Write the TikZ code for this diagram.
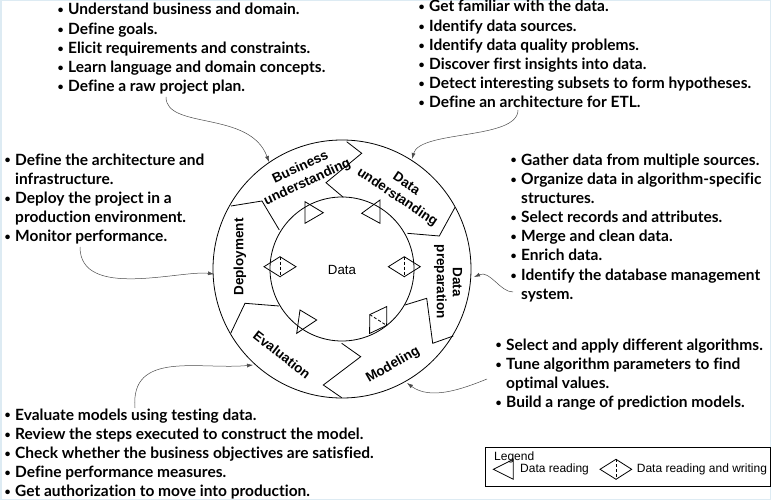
\documentclass[tikz,border=0pt]{standalone}
\usepackage{fontspec}
\setmainfont{Lato}[Ligatures=CommonOff]
\newfontfamily\arialfont{Liberation Sans}
\usetikzlibrary{arrows.meta}
\definecolor{inkgray}{HTML}{4A4A4A}
\definecolor{edgeblue}{HTML}{DDEBF3}
\newcommand{\bpt}{\makebox[11pt][l]{\hspace{0.5pt}\raisebox{0.15ex}{\fontsize{10.5}{10.5}\selectfont\textbullet}}}
\newcommand{\npt}{\makebox[11pt]{}}

\begin{document}
\begin{tikzpicture}[x=1pt, y=-1pt, >={Latex[length=6pt,width=4pt]},
  steptext/.style={anchor=base west, inner sep=0pt, font=\fontsize{15.5}{19.2}\selectfont\bfseries},
  phase/.style={font=\arialfont\bfseries\fontsize{13.5}{16}\selectfont, align=center, inner sep=0pt},
  legtext/.style={font=\arialfont\fontsize{12}{14}\selectfont, anchor=west, inner sep=0pt},
  pointer/.style={->, inkgray, line width=0.5pt},
  ring/.style={line width=0.8pt}]
  \useasboundingbox (0,0) rectangle (771,500);
  \draw[edgeblue, line width=3pt] (0,0) rectangle (771,500);

  % the cycle
  \draw[ring] (342,269) circle (129);
  \draw[ring] (342,269) circle (72);
  \draw[ring] (346.7,141.7) -- (361.7,153.3) -- (326,182.7) -- (343.3,197.3);
  \draw[ring] (455,207.3) -- (439.3,236) -- (407.3,233.3);
  \draw[ring] (405,305) -- (426.7,298.3) -- (432.7,343.3) -- (453.3,336);
  \draw[ring] (341.7,343.3) -- (360.7,356.7) -- (323.3,385) -- (341.7,397.7);
  \draw[ring] (279,306) -- (245,303.3) -- (230.7,333.3);
  \draw[ring] (231,206) -- (262,201) -- (279.3,230);

  \node[font=\arialfont\fontsize{13.3}{15}\selectfont] (data) at (342,270) {Data};
  \node[phase, rotate=25] (bus) at (304,175) {Business\\understanding};
  \node[phase, rotate=-34] (und) at (401.5,191) {Data\\understanding};
  \node[phase, rotate=-90] (prep) at (448,282) {Data\\preparation};
  \node[phase, rotate=30] (mod) at (393,365) {Modeling};
  \node[phase, rotate=-38] (eval) at (282,355) {Evaluation};
  \node[phase, rotate=90] (dep) at (240,257) {Deployment};

  % reading / writing marks
  \draw[ring] (305,201.7) -- (305,223.3) -- (323.3,212.7) -- cycle;
  \draw[ring] (380,200) -- (380,223.3) -- (361.7,213.3) -- cycle;
  \draw[ring] (300,310) -- (296.7,333.3) -- (316.7,320) -- cycle;
  \foreach \cx/\cy/\ang in {280/266.7/0, 404.3/266.7/0, 378.2/320/57.4}{
    \begin{scope}[shift={(\cx,\cy)}, rotate=\ang]
      \draw[ring] (-16,0) -- (0,-10) -- (16,0) -- (0,10) -- cycle;
      \draw[ring, dashed, dash pattern=on 3pt off 2pt] (0,-10) -- (0,10);
    \end{scope}
  }

  % task lists
  \node[steptext] (bu-list) at (57,15) {\begin{tabular}[t]{@{}l@{}}
    \bpt Understand business and domain.\\
    \bpt Define goals.\\
    \bpt Elicit requirements and constraints.\\
    \bpt Learn language and domain concepts.\\
    \bpt Define a raw project plan.
  \end{tabular}};
  \node[steptext] (du-list) at (418,12) {\begin{tabular}[t]{@{}l@{}}
    \bpt Get familiar with the data.\\
    \bpt Identify data sources.\\
    \bpt Identify data quality problems.\\
    \bpt Discover first insights into data.\\
    \bpt Detect interesting subsets to form hypotheses.\\
    \bpt Define an architecture for ETL.
  \end{tabular}};
  \node[steptext] (dep-list) at (4,165) {\begin{tabular}[t]{@{}l@{}}
    \bpt Define the architecture and\\
    \npt infrastructure.\\
    \bpt Deploy the project in a\\
    \npt production environment.\\
    \bpt Monitor performance.
  \end{tabular}};
  \node[steptext] (dp-list) at (510,165) {\begin{tabular}[t]{@{}l@{}}
    \bpt Gather data from multiple sources.\\
    \bpt Organize data in algorithm-specific\\
    \npt structures.\\
    \bpt Select records and attributes.\\
    \bpt Merge and clean data.\\
    \bpt Enrich data.\\
    \bpt Identify the database management\\
    \npt system.
  \end{tabular}};
  \node[steptext] (mod-list) at (495,350) {\begin{tabular}[t]{@{}l@{}}
    \bpt Select and apply different algorithms.\\
    \bpt Tune algorithm parameters to find\\
    \npt optimal values.\\
    \bpt Build a range of prediction models.
  \end{tabular}};
  \node[steptext] (ev-list) at (4,420) {\begin{tabular}[t]{@{}l@{}}
    \bpt Evaluate models using testing data.\\
    \bpt Review the steps executed to construct the model.\\
    \bpt Check whether the business objectives are satisfied.\\
    \bpt Define performance measures.\\
    \bpt Get authorization to move into production.
  \end{tabular}};

  % pointers from the lists to the ring
  \coordinate (bu-from) at (166,97);   \coordinate (bu-to) at (269,162);
  \coordinate (du-from) at (518,110);  \coordinate (du-to) at (412,159);
  \coordinate (dep-from) at (80,247);  \coordinate (dep-to) at (214,274);
  \coordinate (dp-from) at (513,292);  \coordinate (dp-to) at (474,277);
  \coordinate (mod-from) at (487,379); \coordinate (mod-to) at (407,383);
  \coordinate (ev-from) at (135,408);  \coordinate (ev-to) at (253,365);
  \draw[pointer] (bu-from) .. controls (166,130) and (250,110) .. (bu-to);
  \draw[pointer] (du-from) .. controls (518,140) and (420,130) .. (du-to);
  \draw[pointer] (dep-from) .. controls (80,300) and (180,270) .. (dep-to);
  \draw[pointer] (dp-from) .. controls (500,292) and (490,270) .. (dp-to);
  \draw[pointer] (mod-from) .. controls (460,390) and (430,400) .. (mod-to);
  \draw[pointer] (ev-from) .. controls (130,350) and (200,370) .. (ev-to);

  % legend
  \draw[line width=0.8pt] (485,447) rectangle (770,486);
  \node[legtext] (leg) at (494,457.3) {Legend};
  \draw[ring] (493.3,469.3) -- (513.3,459.3) -- (513.3,479.3) -- cycle;
  \node[legtext] (leg-r) at (520,469.3) {Data reading};
  \draw[ring] (600,469.3) -- (616,459.3) -- (631.7,469.3) -- (616,479.3) -- cycle;
  \draw[ring, dashed, dash pattern=on 3pt off 2pt] (616,459.3) -- (616,479.3);
  \node[legtext] (leg-rw) at (636.7,469.3) {Data reading and writing};
\end{tikzpicture}
\end{document}
